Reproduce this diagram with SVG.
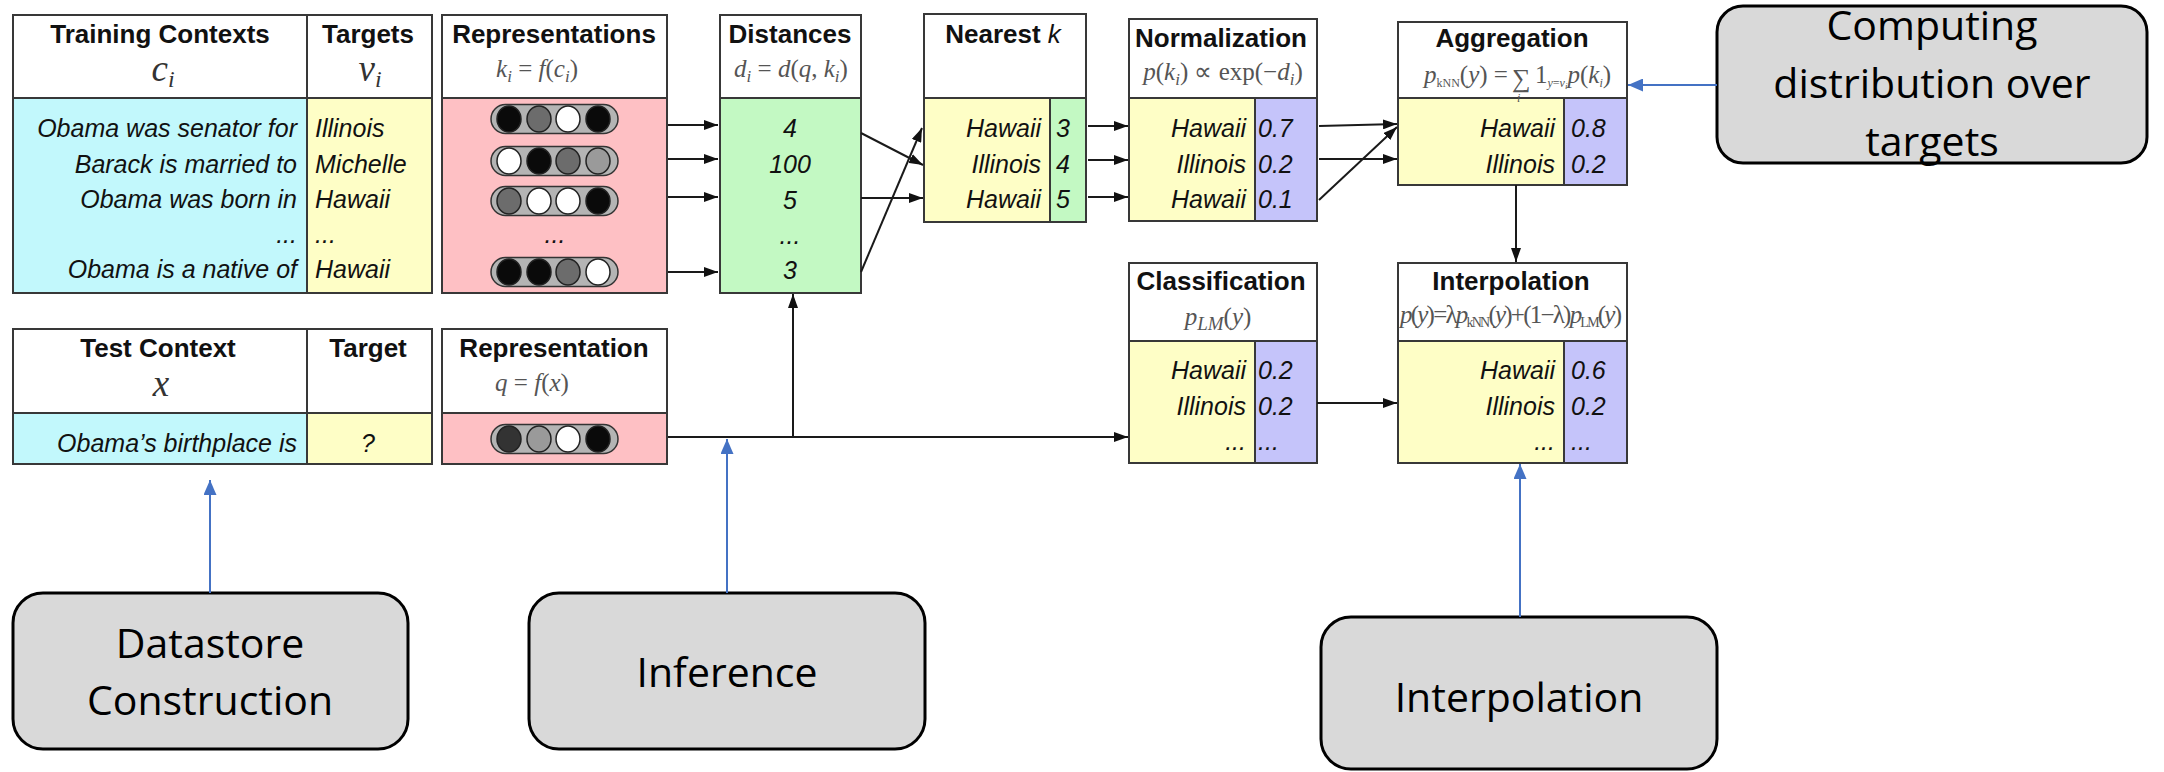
<svg xmlns="http://www.w3.org/2000/svg" width="2164" height="772" viewBox="0 0 2164 772">
  <style>
    .box { stroke: #383838; stroke-width: 2; }
    .ln { stroke: #383838; stroke-width: 2; fill: none; }
    .hd { font-family: "Liberation Sans", Arial, sans-serif; font-weight: bold; font-size: 26px; fill: #111; text-anchor: middle; }
    .it { font-family: "Liberation Sans", Arial, sans-serif; font-style: italic; font-size: 25px; fill: #111; }
    .r { text-anchor: end; }
    .c { text-anchor: middle; }
    .math { font-family: "Liberation Serif", "Times New Roman", serif; font-size: 25px; fill: #555; }
    .mi { font-style: italic; }
    .big { font-family: "Liberation Serif", "Times New Roman", serif; font-style: italic; font-size: 37px; fill: #333; text-anchor: middle; }
    .wht { fill: #ffffff; }
    .cyan { fill: #c2f8fc; }
    .yel { fill: #fefec6; }
    .pink { fill: #fec0c4; }
    .grn { fill: #c3f9c3; }
    .lav { fill: #c5c4fa; }
    .pill { fill: #b4b4b4; stroke: #333; stroke-width: 1.5; }
    .dot { stroke: #222; stroke-width: 1.5; }
    .k { fill: #0a0a0a; }
    .g { fill: #6c6c6c; }
    .lg { fill: #9a9a9a; }
    .w { fill: #ffffff; }
    .dk { fill: #333333; }
    .callout { fill: #d9d9d9; stroke: #000; stroke-width: 3; }
    .ctext { font-family: "Open Sans", "Noto Sans", sans-serif; font-size: 41px; fill: #000; text-anchor: middle; }
    .conn { stroke: #1a1a1a; stroke-width: 2; fill: none; marker-end: url(#ah); }
    .blue { stroke: #4472c4; stroke-width: 2; fill: none; marker-end: url(#ahb); }
  </style>
  <defs>
    <marker id="ah" viewBox="0 0 14 10" refX="14" refY="5" markerWidth="14" markerHeight="10" markerUnits="userSpaceOnUse" orient="auto">
      <path d="M0,0 L14,5 L0,10 z" fill="#111"/>
    </marker>
    <marker id="ahb" viewBox="0 0 15 13" refX="15" refY="6.5" markerWidth="15" markerHeight="13" markerUnits="userSpaceOnUse" orient="auto">
      <path d="M0,0 L15,6.5 L0,13 z" fill="#4472c4"/>
    </marker>
  </defs>

  <rect width="2164" height="772" fill="#ffffff"/>

  <!-- datastore: contexts and targets -->
  <g id="training-table">
    <rect class="wht" x="13" y="15" width="419" height="83"/>
    <rect class="cyan" x="13" y="98" width="294" height="195"/>
    <rect class="yel" x="307" y="98" width="125" height="195"/>
    <rect class="box" fill="none" x="13" y="15" width="419" height="278"/>
    <line class="ln" x1="13" y1="98" x2="432" y2="98"/>
    <line class="ln" x1="307" y1="15" x2="307" y2="293"/>
    <text class="hd" x="160" y="43">Training Contexts</text>
    <text class="big" x="163" y="81">c<tspan font-size="24" dy="6">i</tspan></text>
    <text class="hd" x="368" y="43">Targets</text>
    <text class="big" x="370" y="81">v<tspan font-size="24" dy="6">i</tspan></text>
    <text class="it r" x="297" y="137">Obama was senator for</text>
    <text class="it r" x="297" y="173">Barack is married to</text>
    <text class="it r" x="297" y="208">Obama was born in</text>
    <text class="it r" x="297" y="243">...</text>
    <text class="it r" x="297" y="278">Obama is a native of</text>
    <text class="it" x="315" y="137">Illinois</text>
    <text class="it" x="315" y="173">Michelle</text>
    <text class="it" x="315" y="208">Hawaii</text>
    <text class="it" x="315" y="243">...</text>
    <text class="it" x="315" y="278">Hawaii</text>
  </g>

  <g id="representations">
    <rect class="wht" x="442" y="15" width="225" height="83"/>
    <rect class="pink" x="442" y="98" width="225" height="195"/>
    <rect class="box" fill="none" x="442" y="15" width="225" height="278"/>
    <line class="ln" x1="442" y1="98" x2="667" y2="98"/>
    <text class="hd" x="554" y="43">Representations</text>
    <text class="math c" x="537" y="77"><tspan class="mi">k</tspan><tspan class="mi" font-size="17" dy="5">i</tspan><tspan dy="-5"> = </tspan><tspan class="mi">f</tspan>(<tspan class="mi">c</tspan><tspan class="mi" font-size="17" dy="5">i</tspan><tspan dy="-5">)</tspan></text>
    <rect class="pill" x="491" y="104.5" width="127" height="29" rx="14.5"/>
    <ellipse class="dot k" cx="509" cy="119" rx="12" ry="13"/>
    <ellipse class="dot g" cx="539" cy="119" rx="12" ry="13"/>
    <ellipse class="dot w" cx="568" cy="119" rx="12" ry="13"/>
    <ellipse class="dot k" cx="598" cy="119" rx="12" ry="13"/>
    <rect class="pill" x="491" y="146.5" width="127" height="29" rx="14.5"/>
    <ellipse class="dot w" cx="509" cy="161" rx="12" ry="13"/>
    <ellipse class="dot k" cx="539" cy="161" rx="12" ry="13"/>
    <ellipse class="dot g" cx="568" cy="161" rx="12" ry="13"/>
    <ellipse class="dot lg" cx="598" cy="161" rx="12" ry="13"/>
    <rect class="pill" x="491" y="186.5" width="127" height="29" rx="14.5"/>
    <ellipse class="dot g" cx="509" cy="201" rx="12" ry="13"/>
    <ellipse class="dot w" cx="539" cy="201" rx="12" ry="13"/>
    <ellipse class="dot w" cx="568" cy="201" rx="12" ry="13"/>
    <ellipse class="dot k" cx="598" cy="201" rx="12" ry="13"/>
    <text class="it c" x="555" y="243">...</text>
    <rect class="pill" x="491" y="257.5" width="127" height="29" rx="14.5"/>
    <ellipse class="dot k" cx="509" cy="272" rx="12" ry="13"/>
    <ellipse class="dot k" cx="539" cy="272" rx="12" ry="13"/>
    <ellipse class="dot g" cx="568" cy="272" rx="12" ry="13"/>
    <ellipse class="dot w" cx="598" cy="272" rx="12" ry="13"/>
  </g>

  <!-- query side -->
  <g id="test-table">
    <rect class="wht" x="13" y="329" width="419" height="84"/>
    <rect class="cyan" x="13" y="413" width="294" height="51"/>
    <rect class="yel" x="307" y="413" width="125" height="51"/>
    <rect class="box" fill="none" x="13" y="329" width="419" height="135"/>
    <line class="ln" x1="13" y1="413" x2="432" y2="413"/>
    <line class="ln" x1="307" y1="329" x2="307" y2="464"/>
    <text class="hd" x="158" y="357">Test Context</text>
    <text class="big" x="161" y="396">x</text>
    <text class="hd" x="368" y="357">Target</text>
    <text class="it r" x="297" y="452">Obama’s birthplace is</text>
    <text class="it c" x="368" y="452">?</text>
  </g>

  <g id="test-representation">
    <rect class="wht" x="442" y="329" width="225" height="84"/>
    <rect class="pink" x="442" y="413" width="225" height="51"/>
    <rect class="box" fill="none" x="442" y="329" width="225" height="135"/>
    <line class="ln" x1="442" y1="413" x2="667" y2="413"/>
    <text class="hd" x="554" y="357">Representation</text>
    <text class="math c" x="532" y="391"><tspan class="mi">q</tspan> = <tspan class="mi">f</tspan>(<tspan class="mi">x</tspan>)</text>
    <rect class="pill" x="491" y="424.5" width="127" height="29" rx="14.5"/>
    <ellipse class="dot dk" cx="509" cy="439" rx="12" ry="13"/>
    <ellipse class="dot lg" cx="539" cy="439" rx="12" ry="13"/>
    <ellipse class="dot w" cx="568" cy="439" rx="12" ry="13"/>
    <ellipse class="dot k" cx="598" cy="439" rx="12" ry="13"/>
  </g>

  <g id="distances">
    <rect class="wht" x="720" y="15" width="141" height="83"/>
    <rect class="grn" x="720" y="98" width="141" height="195"/>
    <rect class="box" fill="none" x="720" y="15" width="141" height="278"/>
    <line class="ln" x1="720" y1="98" x2="861" y2="98"/>
    <text class="hd" x="790" y="43">Distances</text>
    <text class="math c" x="791" y="77"><tspan class="mi">d</tspan><tspan class="mi" font-size="17" dy="5">i</tspan><tspan dy="-5"> = </tspan><tspan class="mi">d</tspan>(<tspan class="mi">q</tspan>, <tspan class="mi">k</tspan><tspan class="mi" font-size="17" dy="5">i</tspan><tspan dy="-5">)</tspan></text>
    <text class="it c" x="790" y="137">4</text>
    <text class="it c" x="790" y="173">100</text>
    <text class="it c" x="790" y="209">5</text>
    <text class="it c" x="790" y="244">...</text>
    <text class="it c" x="790" y="279">3</text>
  </g>

  <g id="nearest-k">
    <rect class="wht" x="924" y="14" width="162" height="84"/>
    <rect class="yel" x="924" y="98" width="126" height="124"/>
    <rect class="grn" x="1050" y="98" width="36" height="124"/>
    <rect class="box" fill="none" x="924" y="14" width="162" height="208"/>
    <line class="ln" x1="924" y1="98" x2="1086" y2="98"/>
    <line class="ln" x1="1050" y1="98" x2="1050" y2="222"/>
    <text class="hd" x="1003" y="43">Nearest <tspan font-style="italic" font-weight="normal">k</tspan></text>
    <text class="it r" x="1041" y="137">Hawaii</text>
    <text class="it r" x="1041" y="173">Illinois</text>
    <text class="it r" x="1041" y="208">Hawaii</text>
    <text class="it" x="1056" y="137">3</text>
    <text class="it" x="1056" y="173">4</text>
    <text class="it" x="1056" y="208">5</text>
  </g>

  <g id="normalization">
    <rect class="wht" x="1129" y="19" width="188" height="79"/>
    <rect class="yel" x="1129" y="98" width="126" height="123"/>
    <rect class="lav" x="1255" y="98" width="62" height="123"/>
    <rect class="box" fill="none" x="1129" y="19" width="188" height="202"/>
    <line class="ln" x1="1129" y1="98" x2="1317" y2="98"/>
    <line class="ln" x1="1255" y1="98" x2="1255" y2="221"/>
    <text class="hd" x="1221" y="47">Normalization</text>
    <text class="math c" x="1223" y="80"><tspan class="mi">p</tspan>(<tspan class="mi">k</tspan><tspan class="mi" font-size="17" dy="5">i</tspan><tspan dy="-5">) ∝ exp(−</tspan><tspan class="mi">d</tspan><tspan class="mi" font-size="17" dy="5">i</tspan><tspan dy="-5">)</tspan></text>
    <text class="it r" x="1246" y="137">Hawaii</text>
    <text class="it r" x="1246" y="173">Illinois</text>
    <text class="it r" x="1246" y="208">Hawaii</text>
    <text class="it" x="1258" y="137">0.7</text>
    <text class="it" x="1258" y="173">0.2</text>
    <text class="it" x="1258" y="208">0.1</text>
  </g>

  <g id="aggregation">
    <rect class="wht" x="1398" y="22" width="229" height="76"/>
    <rect class="yel" x="1398" y="98" width="166" height="87"/>
    <rect class="lav" x="1564" y="98" width="63" height="87"/>
    <rect class="box" fill="none" x="1398" y="22" width="229" height="163"/>
    <line class="ln" x1="1398" y1="98" x2="1627" y2="98"/>
    <line class="ln" x1="1564" y1="98" x2="1564" y2="185"/>
    <text class="hd" x="1512" y="47">Aggregation</text>
    <!-- p_kNN(y) = sum_i 1_{y=v_i} p(k_i) -->
    <text class="math" x="1424" y="83" font-size="19"><tspan class="mi">p</tspan><tspan font-size="12" dy="4">kNN</tspan><tspan dy="-4">(</tspan><tspan class="mi">y</tspan>) =<tspan x="1512" dy="4" font-size="26">∑</tspan><tspan class="mi" x="1517" dy="15" font-size="12">i</tspan><tspan x="1535" dy="-19">1</tspan><tspan class="mi" font-size="12" dy="4">y</tspan><tspan font-size="12">=</tspan><tspan class="mi" font-size="12">v</tspan><tspan class="mi" font-size="9" dy="2">i</tspan><tspan class="mi" dy="-6">p</tspan>(<tspan class="mi">k</tspan><tspan class="mi" font-size="12" dy="4">i</tspan><tspan dy="-4">)</tspan></text>
    <text class="it r" x="1555" y="137">Hawaii</text>
    <text class="it r" x="1555" y="173">Illinois</text>
    <text class="it" x="1571" y="137">0.8</text>
    <text class="it" x="1571" y="173">0.2</text>
  </g>

  <g id="classification">
    <rect class="wht" x="1129" y="263" width="188" height="78"/>
    <rect class="yel" x="1129" y="341" width="126" height="122"/>
    <rect class="lav" x="1255" y="341" width="62" height="122"/>
    <rect class="box" fill="none" x="1129" y="263" width="188" height="200"/>
    <line class="ln" x1="1129" y1="341" x2="1317" y2="341"/>
    <line class="ln" x1="1255" y1="341" x2="1255" y2="463"/>
    <text class="hd" x="1221" y="290">Classification</text>
    <text class="math c" x="1218" y="325" font-size="28"><tspan class="mi">p</tspan><tspan class="mi" font-size="19" dy="5">LM</tspan><tspan dy="-5">(</tspan><tspan class="mi">y</tspan>)</text>
    <text class="it r" x="1246" y="379">Hawaii</text>
    <text class="it r" x="1246" y="415">Illinois</text>
    <text class="it r" x="1246" y="450">...</text>
    <text class="it" x="1258" y="379">0.2</text>
    <text class="it" x="1258" y="415">0.2</text>
    <text class="it" x="1258" y="450">...</text>
  </g>

  <g id="interpolation">
    <rect class="wht" x="1398" y="263" width="229" height="78"/>
    <rect class="yel" x="1398" y="341" width="166" height="122"/>
    <rect class="lav" x="1564" y="341" width="63" height="122"/>
    <rect class="box" fill="none" x="1398" y="263" width="229" height="200"/>
    <line class="ln" x1="1398" y1="341" x2="1627" y2="341"/>
    <line class="ln" x1="1564" y1="341" x2="1564" y2="463"/>
    <text class="hd" x="1511" y="290">Interpolation</text>
    <text class="math" x="1400" y="323" font-size="20" textLength="222"><tspan class="mi">p</tspan>(<tspan class="mi">y</tspan>)=λ<tspan class="mi">p</tspan><tspan font-size="14" dy="4">kNN</tspan><tspan dy="-4">(</tspan><tspan class="mi">y</tspan>)+(1−λ)<tspan class="mi">p</tspan><tspan font-size="14" dy="4">LM</tspan><tspan dy="-4">(</tspan><tspan class="mi">y</tspan>)</text>
    <text class="it r" x="1555" y="379">Hawaii</text>
    <text class="it r" x="1555" y="415">Illinois</text>
    <text class="it r" x="1555" y="450">...</text>
    <text class="it" x="1571" y="379">0.6</text>
    <text class="it" x="1571" y="415">0.2</text>
    <text class="it" x="1571" y="450">...</text>
  </g>

  <!-- stage labels -->
  <g id="label-datastore">
    <rect class="callout" x="13" y="593" width="395" height="156" rx="30"/>
    <text class="ctext" x="210" y="658">Datastore</text>
    <text class="ctext" x="210" y="715">Construction</text>
  </g>
  <g id="label-inference">
    <rect class="callout" x="529" y="593" width="396" height="156" rx="30"/>
    <text class="ctext" x="727" y="687">Inference</text>
  </g>
  <g id="label-interpolation">
    <rect class="callout" x="1321" y="617" width="396" height="152" rx="30"/>
    <text class="ctext" x="1519" y="712">Interpolation</text>
  </g>
  <g id="label-distribution">
    <rect class="callout" x="1717" y="6" width="430" height="157" rx="26"/>
    <text class="ctext" x="1932" y="40">Computing</text>
    <text class="ctext" x="1932" y="98">distribution over</text>
    <text class="ctext" x="1932" y="156">targets</text>
  </g>

  <g id="connectors">
    <path class="conn" d="M668,125 H718"/>
    <path class="conn" d="M668,159 H718"/>
    <path class="conn" d="M668,197 H718"/>
    <path class="conn" d="M668,272 H718"/>
    <path class="conn" d="M861,133 L923,165"/>
    <path class="conn" d="M861,198 H923"/>
    <path class="conn" d="M861,272 L922,128"/>
    <path class="conn" d="M1088,126 H1128"/>
    <path class="conn" d="M1088,160 H1128"/>
    <path class="conn" d="M1088,197 H1128"/>
    <path class="conn" d="M1319,126 L1397,124"/>
    <path class="conn" d="M1319,159 H1397"/>
    <path class="conn" d="M1319,200 L1397,127"/>
    <path class="conn" d="M1516,185 V262"/>
    <path class="conn" d="M1317,403 H1397"/>
    <path class="conn" d="M668,437 H1128"/>
    <path class="conn" d="M793,437 V294"/>
    <path class="blue" d="M210,593 V480"/>
    <path class="blue" d="M727,593 V439"/>
    <path class="blue" d="M1520,617 V464"/>
    <path class="blue" d="M1717,85 H1628"/>
  </g>
</svg>
